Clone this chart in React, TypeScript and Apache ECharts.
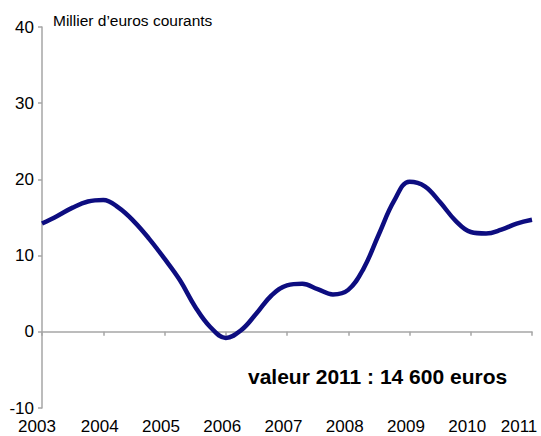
import React, { useEffect, useRef } from "react";
import * as echarts from "echarts";

const quarters: number[] = [
  2003, 2003.25, 2003.5, 2003.75, 2004, 2004.25, 2004.5, 2004.75,
  2005, 2005.25, 2005.5, 2005.75, 2006, 2006.25, 2006.5, 2006.75,
  2007, 2007.25, 2007.5, 2007.75, 2008, 2008.25, 2008.5, 2008.75,
  2009, 2009.25, 2009.5, 2009.75, 2010, 2010.25, 2010.5, 2010.75, 2011,
];
const values: number[] = [
  14.2, 15.2, 16.3, 17.1, 17.3, 16.3, 14.5, 12.2,
  9.6, 6.8, 3.3, 0.6, -0.8, 0.2, 2.4, 4.8,
  6.1, 6.3, 5.6, 4.9, 5.5, 8.3, 12.8, 17.2,
  19.7, 19.1, 17.0, 14.6, 13.1, 12.9, 13.4, 14.2, 14.7,
];
const yTicks = { min: -10, max: 40, interval: 10 };
const xTicks = { min: 2003, max: 2011, interval: 1 };
const unitLabel = "Millier d’euros courants";
const noteLabel = "valeur 2011 : 14 600 euros";

const FONT = "'Liberation Sans', Arial, sans-serif";
const AXIS_COLOR = "#a6a6a6";

export default function App() {
  const ref = useRef<HTMLDivElement>(null);
  useEffect(() => {
    if (!ref.current) return;
    const chart = echarts.init(ref.current, null, { renderer: "svg" });
    const labelStyle = { fontSize: 17, fontFamily: FONT, color: "#000" };
    chart.setOption({
      animation: false,
      backgroundColor: "#ffffff",
      textStyle: { fontFamily: FONT },
      grid: { left: 42, right: 9, top: 27, bottom: 28, containLabel: false, outerBoundsMode: "none" },
      xAxis: [
        {
          type: "value",
          min: xTicks.min,
          max: xTicks.max,
          interval: xTicks.interval,
          axisLine: { show: true, onZero: true, lineStyle: { color: AXIS_COLOR, width: 1.5 } },
          axisTick: { show: true, inside: false, length: 4, lineStyle: { color: AXIS_COLOR, width: 1.5 } },
          axisLabel: { show: false },
          splitLine: { show: false },
        },
        {
          type: "value",
          position: "bottom",
          min: xTicks.min,
          max: xTicks.max,
          interval: xTicks.interval,
          axisLine: { show: false, onZero: false },
          axisTick: { show: false },
          splitLine: { show: false },
          axisLabel: {
            show: true,
            margin: 10,
            color: "#000",
            fontSize: 17,
            fontFamily: FONT,
            showMinLabel: true,
            showMaxLabel: true,
            hideOverlap: false,
            formatter: (v: number) =>
              v === xTicks.min
                ? `{first|${v}}`
                : v === xTicks.max
                ? `{last|${v}}`
                : `{other|${v}}`,
            rich: {
              first: { ...labelStyle, padding: [0, 10, 0, 0] },
              other: { ...labelStyle, padding: [0, 7, 0, 0] },
              last: { ...labelStyle, padding: [0, 26, 0, 0] },
            },
          },
        },
      ],
      yAxis: {
        type: "value",
        min: yTicks.min,
        max: yTicks.max,
        interval: yTicks.interval,
        axisLine: { show: true, lineStyle: { color: AXIS_COLOR, width: 1.5 } },
        axisTick: { show: true, inside: false, length: 4, lineStyle: { color: AXIS_COLOR, width: 1.5 } },
        axisLabel: { color: "#000", fontSize: 17, fontFamily: FONT, margin: 8 },
        splitLine: { show: false },
      },
      graphic: [
        {
          type: "text",
          left: 53,
          top: 12,
          style: { text: unitLabel, font: `15.5px ${FONT}`, fill: "#000" },
        },
        {
          type: "text",
          left: 248,
          top: 366,
          style: { text: noteLabel, font: `bold 21px ${FONT}`, fill: "#000" },
        },
      ],
      series: [
        {
          type: "line",
          xAxisIndex: 0,
          data: quarters.map((q, i) => [q, values[i]]),
          smooth: 0.4,
          symbol: "none",
          lineStyle: { color: "#0d0d80", width: 4.5 },
        },
      ],
    });
    return () => chart.dispose();
  }, []);
  return (
    <div
      ref={ref}
      style={{ position: "fixed", left: 0, top: 0, width: 541, height: 436 }}
    />
  );
}
